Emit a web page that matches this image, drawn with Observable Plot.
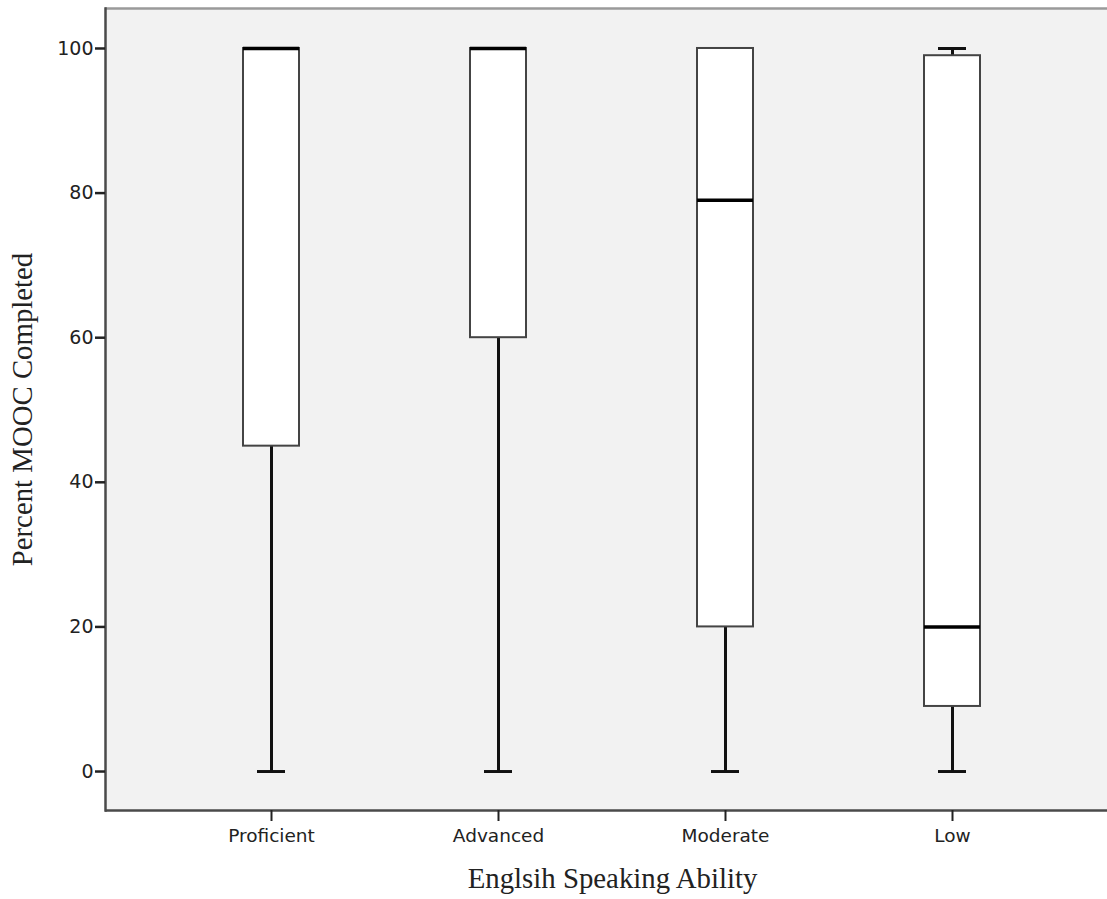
<!DOCTYPE html>
<html>
<head>
<meta charset="utf-8">
<script src="https://cdn.jsdelivr.net/npm/d3@7"></script>
<script src="https://cdn.jsdelivr.net/npm/@observablehq/plot@0.6"></script>
<style>
  html, body { margin: 0; padding: 0; background: #fff; overflow: hidden; }
  #chart svg { max-width: none !important; display: block; }
</style>
</head>
<body>
<div id="chart"></div>
<script>
const categories = ["Proficient", "Advanced", "Moderate", "Low"];
const mins    = [0, 0, 0, 0];
const q1s     = [45, 60, 20, 9];
const medians = [100, 100, 79, 20];
const q3s     = [100, 100, 100, 99];
const maxs    = [100, 100, 100, 100];
const yTicks  = [0, 20, 40, 60, 80, 100];
const yDomain = [-5.39, 105.53];
const xTitle = "Englsih Speaking Ability";
const yTitle = "Percent MOOC Completed";

const rows = categories.map((c, i) => ({
  cat: c, min: mins[i], q1: q1s[i], median: medians[i], q3: q3s[i], max: maxs[i]
}));

const chart = Plot.plot({
  width: 1107,
  height: 899,
  marginTop: 8,
  marginBottom: 89,
  marginLeft: 105,
  marginRight: 0,
  style: { fontFamily: "DejaVu Sans", background: "white", maxWidth: "none" },
  x: { type: "band", domain: categories, paddingInner: 0.754, paddingOuter: 0.579, align: 0.52, label: null },
  y: { domain: yDomain, label: null },
  marks: [
    Plot.frame({ fill: "#f2f2f2", stroke: null }),
    Plot.ruleX(rows, { x: "cat", y1: "min", y2: "q1", stroke: "#111", strokeWidth: 3 }),
    Plot.ruleX(rows, { x: "cat", y1: "q3", y2: "max", stroke: "#111", strokeWidth: 3 }),
    Plot.tickY(rows, { x: "cat", y: "min", insetLeft: 14, insetRight: 14, stroke: "#111", strokeWidth: 3 }),
    Plot.tickY(rows, { x: "cat", y: "max", insetLeft: 14, insetRight: 14, stroke: "#111", strokeWidth: 3 }),
    Plot.barY(rows, { x: "cat", y1: "q1", y2: "q3", fill: "white", stroke: "#444", strokeWidth: 2 }),
    Plot.tickY(rows, { x: "cat", y: "median", stroke: "black", strokeWidth: 3.5 }),
    Plot.ruleY([yDomain[1]], { stroke: "#9a9a9a", strokeWidth: 2.5 }),
    Plot.ruleY([yDomain[0]], { stroke: "#4a4a4a", strokeWidth: 2.5 }),
    Plot.frame({ anchor: "left", stroke: "#4a4a4a", strokeWidth: 2.5 }),
    Plot.axisY({ ticks: yTicks, tickSize: 10, tickPadding: 2, fontSize: 19, fontFamily: "DejaVu Sans", fill: "#222", stroke: "#222", strokeWidth: 2.5, label: null }),
    Plot.axisX({ tickSize: 11, tickPadding: 7, fontSize: 18.5, fontFamily: "DejaVu Sans", fill: "#222", stroke: "#222", strokeWidth: 2, label: null }),
    Plot.text([yTitle], { frameAnchor: "left", textAnchor: "middle", lineAnchor: "middle", dx: -82.5, rotate: -90, fontFamily: "Liberation Serif", fontSize: 28.8, fill: "#222" }),
    Plot.text([xTitle], { x: [categories[1]], dx: 114, frameAnchor: "bottom", textAnchor: "middle", lineAnchor: "middle", dy: 68, fontFamily: "Liberation Serif", fontSize: 28.8, fill: "#222" })
  ]
});
document.getElementById("chart").appendChild(chart);
</script>
</body>
</html>
